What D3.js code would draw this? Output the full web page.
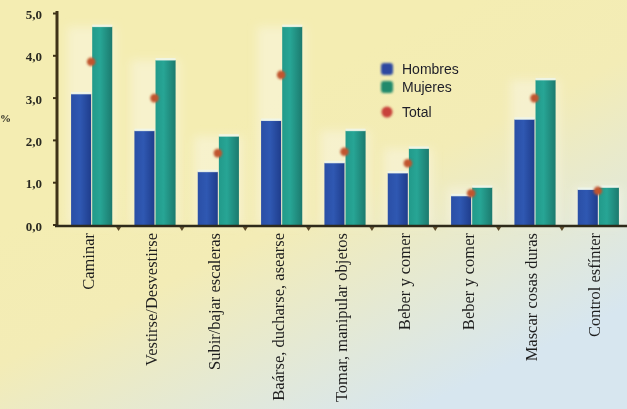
<!DOCTYPE html>
<html>
<head>
<meta charset="utf-8">
<script src="https://cdn.jsdelivr.net/npm/d3@7"></script>
<style>
html,body{margin:0;padding:0;overflow:hidden;}
svg{display:block;}
</style>
</head>
<body>
<script>
const categories = ["Caminar","Vestirse/Desvestirse","Subir/bajar escaleras","Baárse, ducharse, asearse","Tomar, manipular objetos","Beber y comer","Beber y comer","Mascar cosas duras","Control esfínter"];
const hombres = [3.10, 2.23, 1.26, 2.47, 1.47, 1.23, 0.69, 2.50, 0.84];
const mujeres = [4.69, 3.90, 2.10, 4.69, 2.23, 1.81, 0.89, 3.43, 0.89];
const total   = [3.86, 3.00, 1.70, 3.55, 1.73, 1.46, 0.75, 3.00, 0.81];
const yTicks = [0,1,2,3,4,5];
const tickLabels = ["0,0","1,0","2,0","3,0","4,0","5,0"];
const seriesNames = ["Hombres","Mujeres","Total"];

const W = 627, H = 409;
const svg = d3.select("body").append("svg").attr("width", W).attr("height", H);
const defs = svg.append("defs");

const bg = defs.append("linearGradient").attr("id","bg").attr("x1","0.15").attr("y1","0.45").attr("x2","0.6").attr("y2","1.05");
bg.append("stop").attr("offset","0").attr("stop-color","#f4edb2");
bg.append("stop").attr("offset","0.35").attr("stop-color","#f3ecb6");
bg.append("stop").attr("offset","1").attr("stop-color","#d7e6ef");

const gb = defs.append("linearGradient").attr("id","gBlue").attr("x1","0").attr("x2","1").attr("y1","0").attr("y2","0");
gb.append("stop").attr("offset","0").attr("stop-color","#2a4fa6");
gb.append("stop").attr("offset","0.45").attr("stop-color","#2f58b2");
gb.append("stop").attr("offset","1").attr("stop-color","#1f3d8c");
const gt = defs.append("linearGradient").attr("id","gTeal").attr("x1","0").attr("x2","1").attr("y1","0").attr("y2","0");
gt.append("stop").attr("offset","0").attr("stop-color","#229a8a");
gt.append("stop").attr("offset","0.4").attr("stop-color","#27a595");
gt.append("stop").attr("offset","1").attr("stop-color","#1c7a6e");
const glow = defs.append("filter").attr("id","blur").attr("x","-50%").attr("y","-50%").attr("width","200%").attr("height","200%");
glow.append("feGaussianBlur").attr("stdDeviation","0.8");
const glow2 = defs.append("filter").attr("id","glow").attr("x","-50%").attr("y","-50%").attr("width","200%").attr("height","200%");
glow2.append("feGaussianBlur").attr("stdDeviation","5");

svg.append("rect").attr("width",W).attr("height",H).attr("fill","url(#bg)");

const x = d3.scaleBand().domain(d3.range(categories.length)).range([60, 630]).paddingInner(0.35).paddingOuter(0.175);
const xs = d3.scaleBand().domain([0,1]).range([0, x.bandwidth()]).paddingInner(0.05);
const y = d3.scaleLinear().domain([0,5]).range([225, 13.5]);

const data = categories.map((c,i)=>({i, c, h: hombres[i], m: mujeres[i], t: total[i]}));

// soft light glow behind bars
svg.append("g").attr("filter","url(#glow)").selectAll("rect").data(data).join("rect")
  .attr("x", d=>x(d.i)-4).attr("width", x.bandwidth()+8)
  .attr("y", d=>y(Math.max(d.h,d.m))).attr("height", d=>y(0)-y(Math.max(d.h,d.m)))
  .attr("fill","#fbf9ea").attr("opacity",0.45);

const g = svg.append("g");
const groups = g.selectAll("g").data(data).join("g").attr("transform", d=>`translate(${x(d.i)},0)`);
groups.append("rect").attr("x", xs(0)).attr("width", xs.bandwidth())
  .attr("y", d=>y(d.h)).attr("height", d=>y(0)-y(d.h)).attr("fill","url(#gBlue)");
groups.append("rect").attr("x", xs(1)).attr("width", xs.bandwidth())
  .attr("y", d=>y(d.m)).attr("height", d=>y(0)-y(d.m)).attr("fill","url(#gTeal)");
// light caps
groups.append("rect").attr("x", xs(0)).attr("width", xs.bandwidth())
  .attr("y", d=>y(d.h)-2).attr("height", 2.5).attr("fill","#eef6ee").attr("opacity",0.8);
groups.append("rect").attr("x", xs(1)).attr("width", xs.bandwidth())
  .attr("y", d=>y(d.m)-2).attr("height", 2.5).attr("fill","#eef6ee").attr("opacity",0.8);

// total dots
svg.append("g").selectAll("circle").data(data).join("circle")
  .attr("cx", d=>x(d.i)+xs(1)-1).attr("cy", d=>y(d.t)).attr("r", 4.3)
  .attr("fill","#c0552f").attr("filter","url(#blur)");

// y axis
const ya = svg.append("g");
ya.append("line").attr("x1",57).attr("x2",57).attr("y1",11).attr("y2",227)
  .attr("stroke","#3e3218").attr("stroke-width",3);
ya.selectAll("line.t").data(yTicks).join("line").attr("class","t")
  .attr("x1",53).attr("x2",57).attr("y1",d=>y(d)).attr("y2",d=>y(d))
  .attr("stroke","#3e3218").attr("stroke-width",2);
ya.selectAll("text").data(yTicks).join("text")
  .attr("x",42).attr("y",d=>y(d)+1).attr("dy","0.35em").attr("text-anchor","end")
  .attr("font-family","Liberation Serif, serif").attr("font-weight","bold").attr("font-size","13px")
  .attr("fill","#2a2a22").text((d,i)=>tickLabels[i]);
svg.append("text").attr("x",0).attr("y",118).attr("dy","0.35em")
  .attr("font-family","Liberation Serif, serif").attr("font-weight","bold").attr("font-size","11px")
  .attr("fill","#2a2a22").text("%");

// x axis
const xa = svg.append("g");
xa.append("line").attr("x1",55).attr("x2",W).attr("y1",226).attr("y2",226)
  .attr("stroke","#2e2a1a").attr("stroke-width",2.5);
xa.selectAll("path").data(d3.range(1, categories.length)).join("path")
  .attr("d", i=>{const tx = x(i) - x.step()*0.25; return `M${tx-2.5},227 L${tx+2.5},227 L${tx},231 Z`;})
  .attr("fill","#5a4a2a");
xa.selectAll("text").data(data).join("text")
  .attr("transform", d=>`translate(${x(d.i)+x.bandwidth()/2+2},233) rotate(-90)`)
  .attr("text-anchor","end").attr("dy","0")
  .attr("font-family","Liberation Serif, serif").attr("font-size","16.5px")
  .attr("fill","#1e1e1e").text(d=>d.c);

// legend
const leg = svg.append("g");
const legY = [69, 87, 112];
leg.append("rect").attr("x",381).attr("y",legY[0]-6).attr("width",12).attr("height",12).attr("rx",3)
  .attr("fill","#2f4aa0").attr("filter","url(#blur)");
leg.append("rect").attr("x",381).attr("y",legY[1]-6).attr("width",12).attr("height",12).attr("rx",3)
  .attr("fill","#238a6c").attr("filter","url(#blur)");
leg.append("circle").attr("cx",387).attr("cy",legY[2]).attr("r",5.5)
  .attr("fill","#c8433a").attr("filter","url(#blur)");
leg.selectAll("text").data(seriesNames).join("text")
  .attr("x",402).attr("y",(d,i)=>legY[i]+5)
  .attr("font-family","Liberation Sans, Arial, sans-serif").attr("font-size","14px")
  .attr("fill","#1e1e28").text(d=>d);
</script>
</body>
</html>
